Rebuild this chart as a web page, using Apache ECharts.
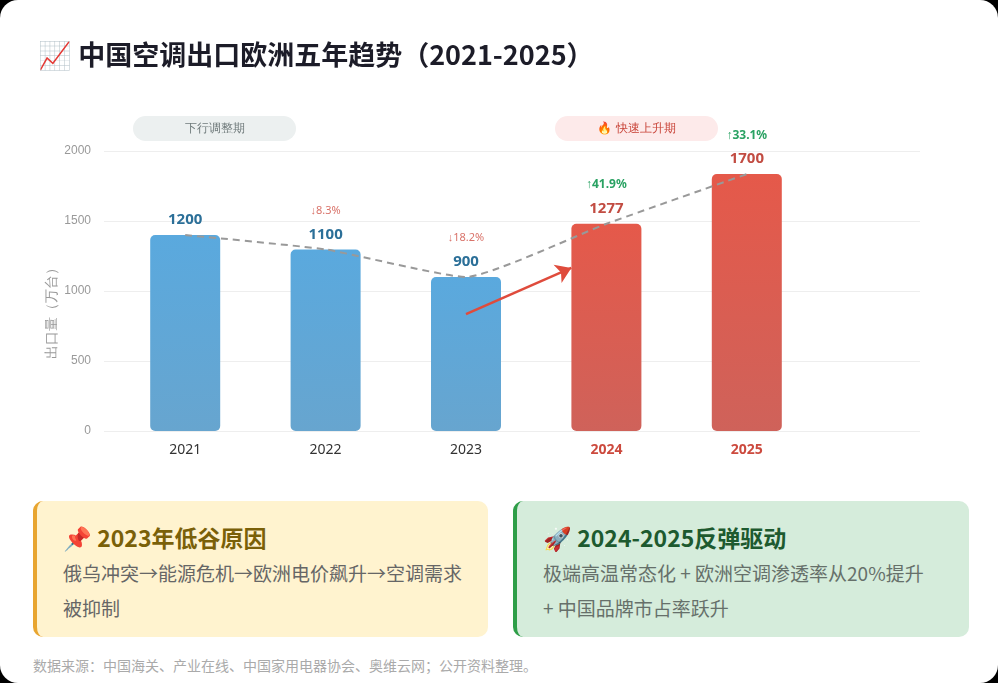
<!DOCTYPE html>
<html>
<head>
<meta charset="utf-8">
<script src="https://cdn.jsdelivr.net/npm/echarts@6/dist/echarts.min.js"></script>
<style>
  html, body { margin: 0; padding: 0; background: #000; }
  .page {
    position: relative; width: 998px; height: 683px; background: #fff;
    border-radius: 18px; overflow: hidden;
    font-family: "Noto Sans CJK SC", "Noto Sans", sans-serif;
  }
  #chart { position: absolute; left: 0; top: 0; width: 998px; height: 490px; }
  .card {
    position: absolute; top: 501px; height: 136px; box-sizing: border-box;
    border-radius: 10px; padding: 18px 16px 0 26px;
  }
  .card h3 { margin: 0; font-size: 23px; line-height: 36px; font-weight: 700; }
  .card p { margin: 0; font-size: 19px; line-height: 35px; color: #666; }
  .low { left: 33px; width: 455px; background: #fff3cf; border-left: 4px solid #e8a530; }
  .low h3 { color: #7a6008; }
  .up { left: 513px; width: 456px; background: #d5ecdb; border-left: 4px solid #2e9e48; }
  .up h3 { color: #1d5a2f; }
  .up p { color: #66706a; }
  .src { position: absolute; left: 33px; top: 655px; font-size: 14px; color: #aaa; }
</style>
</head>
<body>
<div class="page">
  <div id="chart"></div>
  <div class="card low">
    <h3>📌 2023年低谷原因</h3>
    <p>俄乌冲突→能源危机→欧洲电价飙升→空调需求被抑制</p>
  </div>
  <div class="card up">
    <h3>🚀 2024-2025反弹驱动</h3>
    <p>极端高温常态化 + 欧洲空调渗透率从20%提升<br>+ 中国品牌市占率跃升</p>
  </div>
  <div class="src">数据来源：中国海关、产业在线、中国家用电器协会、奥维云网；公开资料整理。</div>
</div>
<script>
// 年份和柱高，标签文字单独存放
const years = ['2021', '2022', '2023', '2024', '2025'];
const barHeights = [1400, 1297, 1100, 1480, 1835];
const valueLabels = ['1200', '1100', '900', '1277', '1700'];
const changeLabels = ['', '↓8.3%', '↓18.2%', '↑41.9%', '↑33.1%'];
const yTicks = { min: 0, max: 2000, step: 500 };
// 红色箭头：从2023柱内指向2024柱
const arrowPath = [[2, 835], [2.75, 1165]];

const blue = new echarts.graphic.LinearGradient(0, 0, 0, 1, [
  { offset: 0, color: '#5aa9de' }, { offset: 1, color: '#67a5cf' }
]);
const red = new echarts.graphic.LinearGradient(0, 0, 0, 1, [
  { offset: 0, color: '#e5594a' }, { offset: 1, color: '#cf625a' }
]);

const chart = echarts.init(document.getElementById('chart'));

const option = {
  animation: false,
  title: {
    text: '📈 中国空调出口欧洲五年趋势（2021-2025）',
    left: 33, top: 36,
    textStyle: { fontSize: 27, fontWeight: 'bold', color: '#1c1c28', fontFamily: 'Noto Sans CJK SC' }
  },
  grid: [
    { left: 104, right: 78, top: 151, bottom: 59 },
    { left: 115, right: 181, top: 151, bottom: 59 }
  ],
  xAxis: [
    { gridIndex: 0, type: 'category', data: [''], show: false },
    {
      gridIndex: 1, type: 'category',
      data: years.map(function (y, i) {
        return i >= 3
          ? { value: y, textStyle: { color: '#cc4a3e', fontWeight: 'bold' } }
          : { value: y, textStyle: { color: '#333' } };
      }),
      axisLine: { show: false }, axisTick: { show: false },
      axisLabel: { fontSize: 14, margin: 12, fontFamily: 'Noto Sans' }
    },
    { gridIndex: 1, type: 'value', min: -0.5, max: 4.5, show: false }
  ],
  yAxis: [
    {
      gridIndex: 0, type: 'value',
      min: yTicks.min, max: yTicks.max, interval: yTicks.step,
      name: '出口量（万台）', nameLocation: 'middle', nameGap: 45, nameMoveOverlap: false,
      nameTextStyle: { color: '#999', fontSize: 14, padding: [0, 38, 0, 0] },
      axisLine: { show: false }, axisTick: { show: false },
      axisLabel: { color: '#999', fontSize: 12, margin: 13, formatter: function (v) { return String(v); } },
      splitLine: { lineStyle: { color: '#eeeeee' } }
    },
    { gridIndex: 1, type: 'value', min: yTicks.min, max: yTicks.max, show: false }
  ],
  graphic: [
    {
      type: 'rect', left: 133, top: 116,
      shape: { width: 163, height: 25, r: 12.5 },
      style: { fill: '#ecf0f0' },
      textContent: { style: { text: '下行调整期', fill: '#707b7c', fontSize: 12 } },
      textConfig: { position: 'inside' }
    },
    {
      type: 'rect', left: 555, top: 116,
      shape: { width: 163, height: 25, r: 12.5 },
      style: { fill: '#fdeaea' },
      textContent: { style: { text: '🔥 快速上升期', fill: '#c9453a', fontSize: 12 } },
      textConfig: { position: 'inside' }
    }
  ],
  series: [
    {
      type: 'bar', xAxisIndex: 1, yAxisIndex: 1,
      barWidth: 70,
      data: barHeights.map(function (v, i) {
        return { value: v, itemStyle: { color: i >= 3 ? red : blue, borderRadius: 5 } };
      }),
      label: {
        show: true, position: 'top', distance: 5,
        formatter: function (p) {
          const i = p.dataIndex;
          const up = i >= 3;
          let s = '';
          if (changeLabels[i]) s += '{' + (up ? 'up' : 'down') + '|' + changeLabels[i] + '}\n';
          return s + '{' + (up ? 'vr' : 'vb') + '|' + valueLabels[i] + '}';
        },
        rich: {
          vb: { fontSize: 15, fontWeight: 'bold', color: '#2b6f98', lineHeight: 20, fontFamily: 'Noto Sans' },
          vr: { fontSize: 15, fontWeight: 'bold', color: '#c24c42', lineHeight: 20, fontFamily: 'Noto Sans' },
          down: { fontSize: 11, color: '#d9736a', lineHeight: 18, padding: [0, 0, 10, 0], fontFamily: 'Noto Sans' },
          up: { fontSize: 12, fontWeight: 'bold', color: '#2aa263', lineHeight: 18, padding: [0, 0, 10, 0], fontFamily: 'Noto Sans' }
        }
      },
      z: 2
    },
    {
      type: 'line', xAxisIndex: 1, yAxisIndex: 1,
      data: barHeights,
      symbol: 'none', smooth: 0.15,
      lineStyle: { color: '#999', width: 2, type: [7, 5] },
      z: 3
    },
    {
      type: 'lines', coordinateSystem: 'cartesian2d', xAxisIndex: 2, yAxisIndex: 1,
      data: [{ coords: arrowPath }],
      symbol: ['none', 'arrow'], symbolSize: 15,
      lineStyle: { color: '#df4b3c', width: 2.5, opacity: 1, curveness: 0 },
      z: 4
    }
  ]
};

chart.setOption(option);
</script>
</body>
</html>
